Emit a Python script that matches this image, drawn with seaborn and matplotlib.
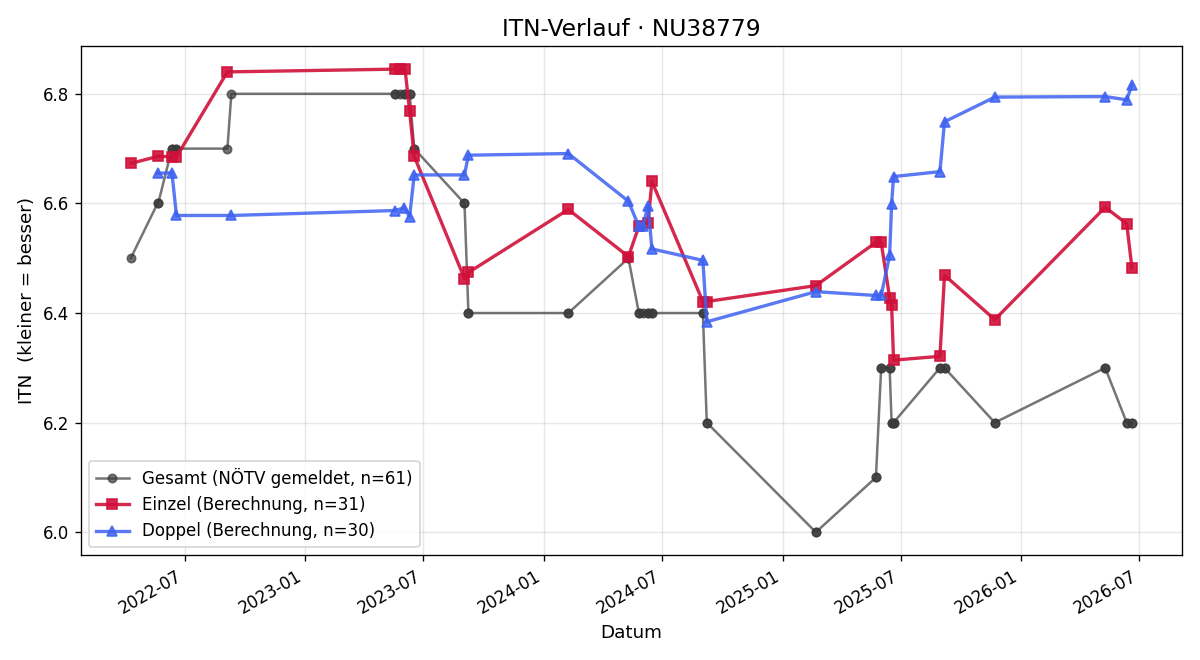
import pandas as pd
import seaborn as sns
import matplotlib
matplotlib.use("Agg")
import matplotlib.pyplot as plt
import matplotlib.dates as mdates

# Einzel (singles) calculated ITN
einzel_dates = [
    "2022-04-09", "2022-05-21", "2022-06-11", "2022-06-18", "2022-09-04",
    "2023-05-18", "2023-05-26", "2023-06-03", "2023-06-10", "2023-06-17",
    "2023-09-02", "2023-09-08", "2024-02-08", "2024-05-10", "2024-05-26",
    "2024-06-09", "2024-06-15", "2024-09-01", "2024-09-07", "2025-02-21",
    "2025-05-24", "2025-06-01", "2025-06-14", "2025-06-17", "2025-06-20",
    "2025-08-30", "2025-09-06", "2025-11-22", "2026-05-10", "2026-06-12",
    "2026-06-20",
]
einzel_itn = [
    6.673, 6.686, 6.685, 6.685, 6.840,
    6.845, 6.845, 6.845, 6.768, 6.686,
    6.463, 6.474, 6.589, 6.503, 6.558,
    6.565, 6.640, 6.421, 6.421, 6.450,
    6.529, 6.529, 6.428, 6.415, 6.314,
    6.321, 6.469, 6.388, 6.593, 6.563,
    6.482,
]

# Doppel (doubles) calculated ITN
doppel_dates = [
    "2022-05-20", "2022-06-11", "2022-06-18", "2022-09-10", "2023-05-18",
    "2023-06-02", "2023-06-10", "2023-06-17", "2023-09-02", "2023-09-08",
    "2024-02-08", "2024-05-10", "2024-05-26", "2024-06-01", "2024-06-09",
    "2024-06-15", "2024-09-01", "2024-09-07", "2025-02-21", "2025-05-24",
    "2025-06-01", "2025-06-14", "2025-06-17", "2025-06-20", "2025-08-30",
    "2025-09-06", "2025-11-22", "2026-05-10", "2026-06-12", "2026-06-20",
]
doppel_itn = [
    6.655, 6.656, 6.578, 6.578, 6.587,
    6.592, 6.576, 6.652, 6.652, 6.688,
    6.691, 6.604, 6.558, 6.558, 6.596,
    6.517, 6.496, 6.384, 6.439, 6.432,
    6.432, 6.505, 6.599, 6.649, 6.658,
    6.749, 6.794, 6.795, 6.789, 6.816,
]

# reported overall ITN (NÖTV) per match date
gesamt_dates = [
    "2022-04-09", "2022-05-20", "2022-05-21", "2022-06-11", "2022-06-18",
    "2022-09-04", "2022-09-10", "2023-05-18", "2023-05-26", "2023-06-02",
    "2023-06-03", "2023-06-10", "2023-06-17", "2023-09-02", "2023-09-08",
    "2024-02-08", "2024-05-10", "2024-05-26", "2024-06-01", "2024-06-09",
    "2024-06-15", "2024-09-01", "2024-09-07", "2025-02-21", "2025-05-24",
    "2025-06-01", "2025-06-14", "2025-06-17", "2025-06-20", "2025-08-30",
    "2025-09-06", "2025-11-22", "2026-05-10", "2026-06-12", "2026-06-20",
]
gesamt_itn = [
    6.5, 6.6, 6.6, 6.7, 6.7,
    6.7, 6.8, 6.8, 6.8, 6.8,
    6.8, 6.8, 6.7, 6.6, 6.4,
    6.4, 6.5, 6.4, 6.4, 6.4,
    6.4, 6.4, 6.2, 6.0, 6.1,
    6.3, 6.3, 6.2, 6.2, 6.3,
    6.3, 6.2, 6.3, 6.2, 6.2,
]


def main():
    einzel = pd.DataFrame({"datum": pd.to_datetime(einzel_dates), "itn": einzel_itn})
    doppel = pd.DataFrame({"datum": pd.to_datetime(doppel_dates), "itn": doppel_itn})

    # one overall entry for every match (singles + doubles)
    lookup = dict(zip(pd.to_datetime(gesamt_dates), gesamt_itn))
    all_dates = pd.concat([einzel["datum"], doppel["datum"]]).sort_values()
    gesamt = pd.DataFrame({"datum": all_dates.values})
    gesamt["itn"] = gesamt["datum"].map(lookup)

    fig, ax = plt.subplots(figsize=(10, 5.5), dpi=120)

    gray, red, blue = "#3a3a3a", "#d0103a", "#3d62f0"
    sns.lineplot(data=gesamt, x="datum", y="itn", ax=ax, estimator=None, sort=True,
                 color=gray, alpha=0.7, linewidth=1.5, marker="o",
                 markersize=5, markeredgewidth=1, markeredgecolor=gray,
                 label=f"Gesamt (NÖTV gemeldet, n={len(gesamt)})")
    sns.lineplot(data=einzel, x="datum", y="itn", ax=ax, estimator=None, sort=True,
                 color=red, alpha=0.9, linewidth=2, marker="s",
                 markersize=6, markeredgewidth=1, markeredgecolor=red,
                 label=f"Einzel (Berechnung, n={len(einzel)})")
    sns.lineplot(data=doppel, x="datum", y="itn", ax=ax, estimator=None, sort=True,
                 color=blue, alpha=0.85, linewidth=2, marker="^",
                 markersize=6, markeredgewidth=1, markeredgecolor=blue,
                 label=f"Doppel (Berechnung, n={len(doppel)})")

    ax.set_title("ITN-Verlauf · NU38779", fontsize=14)
    ax.set_xlabel("Datum", fontsize=11)
    ax.set_ylabel("ITN  (kleiner = besser)", fontsize=11)
    ax.grid(True, alpha=0.3)
    ax.xaxis.set_major_locator(mdates.MonthLocator(bymonth=[1, 7]))
    ax.xaxis.set_major_formatter(mdates.DateFormatter("%Y-%m"))
    ax.legend(loc="lower left", fontsize=10)
    fig.autofmt_xdate()

    plt.tight_layout()
    plt.savefig("out.png")


if __name__ == "__main__":
    main()
